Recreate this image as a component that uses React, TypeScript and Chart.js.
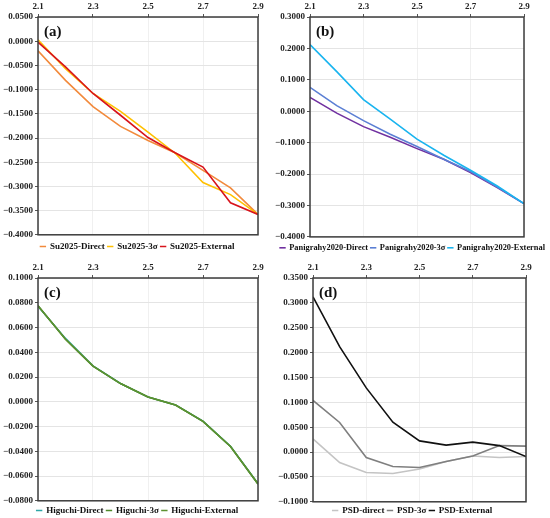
import React, { useEffect, useRef } from "react"
import { Chart, registerables } from "chart.js"

Chart.register(...registerables)

// x positions shared by all four panels
const xValues = [2.1, 2.2, 2.3, 2.4, 2.5, 2.6, 2.7, 2.8, 2.9]
const xTicks = [2.1, 2.3, 2.5, 2.7, 2.9]

// (a) Su2025
const suNames = ["Su2025-Direct", "Su2025-3σ", "Su2025-External"]
const suDirect = [-0.02, -0.081, -0.135, -0.176, -0.205, -0.231, -0.267, -0.303, -0.358]
const su3s = [0.003, -0.057, -0.108, -0.145, -0.188, -0.232, -0.292, -0.317, -0.358]
const suExternal = [-0.002, -0.053, -0.108, -0.153, -0.199, -0.231, -0.26, -0.334, -0.358]

// (b) Panigrahy2020
const paNames = ["Panigrahy2020-Direct", "Panigrahy2020-3σ", "Panigrahy2020-External"]
const paDirect = [0.044, -0.006, -0.049, -0.083, -0.119, -0.153, -0.195, -0.243, -0.294]
const pa3s = [0.076, 0.018, -0.03, -0.073, -0.112, -0.153, -0.192, -0.241, -0.294]
const paExternal = [0.212, 0.126, 0.037, -0.025, -0.089, -0.14, -0.188, -0.238, -0.294]

// (c) Higuchi
const hiNames = ["Higuchi-Direct", "Higuchi-3σ", "Higuchi-External"]
const hiDirect = [0.0772, 0.0512, 0.029, 0.0148, 0.0039, -0.0025, -0.0157, -0.036, -0.0662]
const hi3s = [0.0775, 0.0505, 0.0288, 0.0147, 0.0039, -0.0026, -0.0158, -0.0361, -0.0664]
const hiExternal = [0.0775, 0.0505, 0.0288, 0.0147, 0.0039, -0.0026, -0.0158, -0.0361, -0.0664]

// (d) PSD
const psdNames = ["PSD-direct", "PSD-3σ", "PSD-External"]
const psdDirect = [0.0265, -0.021, -0.041, -0.043, -0.034, -0.019, -0.008, -0.011, -0.009]
const psd3s = [0.104, 0.0595, -0.011, -0.029, -0.031, -0.019, -0.008, 0.013, 0.012]
const psdExternal = [0.312, 0.212, 0.129, 0.06, 0.0225, 0.014, 0.02, 0.013, -0.009]

interface PanelSpec {
  tag: string
  names: string[]
  series: number[][]
  colors: string[]
  yMin: number
  yMax: number
  yStep: number
  left: number
  top: number
  yWidth: number
  xHeight: number
  rightGap: number
  padBottom: number
  legendGap: number
  legendSize: number
  legendPad: number
}

const panels: PanelSpec[] = [
  {
    tag: "(a)", names: suNames, series: [suDirect, su3s, suExternal],
    colors: ["#f28a3c", "#ffc000", "#d8141c"],
    yMin: -0.4, yMax: 0.05, yStep: 0.05,
    left: 0, top: 0, yWidth: 38, xHeight: 17, rightGap: 17, padBottom: -2, legendGap: 3,
    legendSize: 9, legendPad: 3,
  },
  {
    tag: "(b)", names: paNames, series: [paDirect, pa3s, paExternal],
    colors: ["#7030a0", "#5b7fd4", "#19b4ef"],
    yMin: -0.4, yMax: 0.3, yStep: 0.1,
    left: 275, top: 0, yWidth: 35, xHeight: 17, rightGap: 26, padBottom: -3, legendGap: 3,
    legendSize: 8.4, legendPad: 2.5,
  },
  {
    tag: "(c)", names: hiNames, series: [hiDirect, hi3s, hiExternal],
    colors: ["#2fa7a7", "#4f8a2a", "#5c9130"],
    yMin: -0.08, yMax: 0.1, yStep: 0.02,
    left: 0, top: 259, yWidth: 38, xHeight: 19, rightGap: 17, padBottom: -7, legendGap: 1,
    legendSize: 9, legendPad: 3,
  },
  {
    tag: "(d)", names: psdNames, series: [psdDirect, psd3s, psdExternal],
    colors: ["#c4c4c4", "#7f7f7f", "#111111"],
    yMin: -0.1, yMax: 0.35, yStep: 0.05,
    left: 275, top: 259, yWidth: 38, xHeight: 19, rightGap: 24, padBottom: -7, legendGap: 0,
    legendSize: 9, legendPad: 3,
  },
]

const FONT = "'Liberation Serif', 'Times New Roman', serif"

// box round the plot area plus the panel letter
const framePlugin = {
  id: "frame",
  afterDatasetsDraw(chart: any, _args: any, opts: any) {
    const { ctx, chartArea } = chart
    const { left, top, right, bottom } = chartArea
    ctx.save()
    ctx.strokeStyle = "#3c3c3c"
    ctx.lineWidth = 1.5
    ctx.strokeRect(left, top, right - left, bottom - top)
    ctx.fillStyle = "#111"
    ctx.font = `bold 15px ${FONT}`
    ctx.textBaseline = "top"
    ctx.fillText(opts.text, left + 6, top + 8)
    ctx.restore()
  },
}

function fmt(v: number) {
  const s = Math.abs(v).toFixed(4)
  return v < -1e-9 ? "−" + s : s
}

function Panel({ spec }: { spec: PanelSpec }) {
  const canvasRef = useRef<HTMLCanvasElement>(null)

  useEffect(() => {
    if (!canvasRef.current) return
    const n = spec.series.length
    const chart = new Chart(canvasRef.current, {
      type: "line",
      data: {
        datasets: spec.series.map((vals, i) => ({
          label: spec.names[i],
          data: vals.map((y, j) => ({ x: xValues[j], y })),
          borderColor: spec.colors[i],
          backgroundColor: spec.colors[i],
          borderWidth: 1.6,
          pointRadius: 0,
          tension: 0,
          order: n - i, // later series painted on top
        })),
      },
      plugins: [framePlugin],
      options: {
        animation: false,
        responsive: true,
        maintainAspectRatio: false,
        layout: { padding: { left: 0, right: 0, top: 0, bottom: spec.padBottom } },
        scales: {
          x: {
            type: "linear",
            position: "top",
            min: 2.1,
            max: 2.9,
            afterBuildTicks: (scale: any) => {
              scale.ticks = xTicks.map((v) => ({ value: v }))
            },
            afterFit: (scale: any) => {
              scale.height = spec.xHeight
            },
            ticks: {
              color: "#222",
              font: { family: FONT, size: 9, weight: "bold" },
              padding: 2,
              maxRotation: 0,
              callback: (v: any) => Number(v).toFixed(1),
            },
            grid: { color: "#f0f0f0", tickColor: "#555", tickLength: 3 },
            border: { display: false },
          },
          y: {
            min: spec.yMin,
            max: spec.yMax,
            afterFit: (scale: any) => {
              scale.width = spec.yWidth
            },
            ticks: {
              stepSize: spec.yStep,
              color: "#222",
              font: { family: FONT, size: 9, weight: "bold" },
              padding: 2,
              callback: (v: any) => fmt(Number(v)),
            },
            grid: { color: "#e4e4e4", tickColor: "#555", tickLength: 3 },
            border: { display: false },
          },
          // empty right-hand axis: keeps a gap right of the plot without narrowing the legend
          gap: {
            type: "linear",
            position: "right",
            afterFit: (scale: any) => {
              scale.width = spec.rightGap
            },
            ticks: { display: false },
            grid: { display: false },
            border: { display: false },
          },
        } as any,
        plugins: {
          legend: {
            position: "bottom",
            // blank title only used as a spacer above the legend row
            title: {
              display: true,
              text: " ",
              font: { size: 1 },
              padding: { top: spec.legendGap, bottom: 0 },
            },
            labels: {
              usePointStyle: true,
              pointStyle: "line",
              boxWidth: 5,
              boxHeight: 4.5,
              padding: spec.legendPad,
              color: "#111",
              font: { family: FONT, size: spec.legendSize, weight: "bold" },
              sort: (a: any, b: any) => a.datasetIndex - b.datasetIndex,
            },
          },
          tooltip: { enabled: false },
          frame: { text: spec.tag },
        } as any,
      },
    })
    return () => chart.destroy()
  }, [spec])

  return (
    <div style={{ position: "absolute", left: spec.left, top: spec.top, width: 275, height: 259 }}>
      <canvas ref={canvasRef} />
    </div>
  )
}

export default function App() {
  return (
    <div style={{ position: "absolute", left: 0, top: 0, width: 550, height: 518, background: "#fff" }}>
      {panels.map((p) => (
        <Panel key={p.tag} spec={p} />
      ))}
    </div>
  )
}
